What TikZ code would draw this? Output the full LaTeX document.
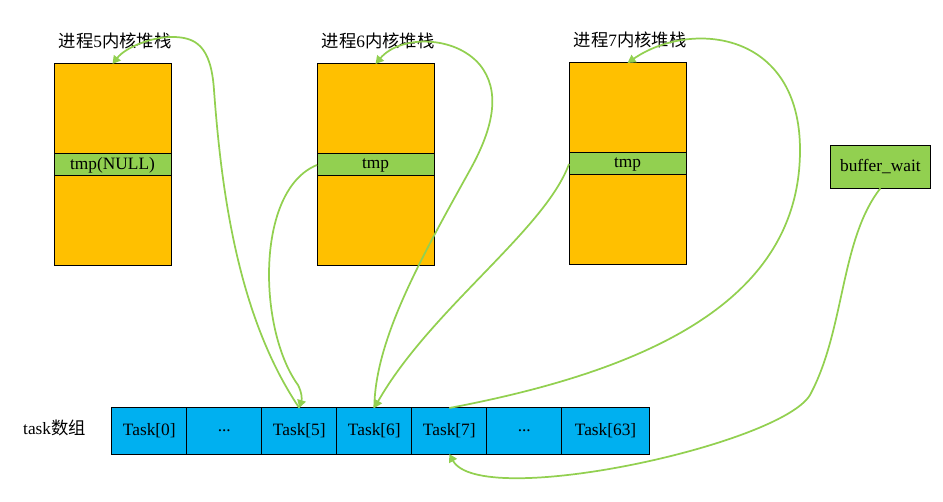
\documentclass[tikz,border=0pt]{standalone}
\usepackage{fontspec}
\setmainfont{Liberation Serif}
\newfontfamily\cjk{Noto Sans CJK SC}
\usetikzlibrary{positioning,arrows.meta}

\definecolor{stackorange}{RGB}{255,192,0}
\definecolor{tmpgreen}{RGB}{146,208,80}
\definecolor{taskblue}{RGB}{0,176,240}

\tikzset{every picture/.style={line width=0.75pt}}
\tikzset{
	stackbox/.style={draw,fill=stackorange,minimum width=87.75pt,minimum height=151.5pt,inner sep=0pt,outer sep=0pt},
	tmpbox/.style={draw,fill=tmpgreen,minimum width=87.75pt,minimum height=16.5pt,inner sep=0pt,outer sep=0pt},
	taskbox/.style={draw,fill=taskblue,minimum width=56.25pt,minimum height=34.5pt,inner sep=0pt,outer sep=0pt},
	waitbox/.style={draw,fill=tmpgreen,minimum width=75.5pt,minimum height=32.25pt,inner sep=0pt,outer sep=0pt},
	link/.style={draw=tmpgreen,line width=1.3pt,-{Triangle[length=6pt,width=6.5pt]}},
}

\begin{document}
\begin{tikzpicture}[x=0.75pt,y=0.75pt,yscale=-1,xscale=1,font=\fontsize{13pt}{15pt}\selectfont]
		\path[use as bounding box] (0,0) rectangle (943,502);
		
		%kernel stacks
		\node (stack5) [stackbox] at (112.5,165) {};
		\node (tmp5) [tmpbox] at (112.5,165) {tmp(NULL)};
		\node (stack6) [stackbox] at (375.5,165) {};
		\node (tmp6) [tmpbox] at (375.5,165) {tmp};
		\node (stack7) [stackbox] at (627.5,164) {};
		\node (tmp7) [tmpbox] at (627.5,164) {tmp};
		
		\node (label5) [inner sep=0.75pt] at (115,41) {{\cjk 进程}5{\cjk 内核堆栈}};
		\node (label6) [inner sep=0.75pt] at (378,41) {{\cjk 进程}6{\cjk 内核堆栈}};
		\node (label7) [inner sep=0.75pt] at (630,40) {{\cjk 进程}7{\cjk 内核堆栈}};
		
		%wait queue head
		\node (bufwait) [waitbox] at (880.4,166.8) {buffer\_wait};
		
		%task array
		\node (task0) [taskbox] at (149.3,431) {Task[0]};
		\node (dots1) [taskbox,right=0pt of task0] {...};
		\node (task5) [taskbox,right=0pt of dots1] {Task[5]};
		\node (task6) [taskbox,right=0pt of task5] {Task[6]};
		\node (task7) [taskbox,right=0pt of task6] {Task[7]};
		\node (dots2) [taskbox,right=0pt of task7] {...};
		\node (task63) [taskbox,minimum width=65.6pt,right=0pt of dots2] {Task[63]};
		\node (tasklabel) [inner sep=0.75pt] at (54.5,428) {task{\cjk 数组}};
		
		%links
		\draw [link] (task5.north) .. controls (240,320) and (222,200) .. (214,90) .. controls (211,45) and (195,37) .. (172,37) .. controls (150,37) and (125,48) .. (stack5.north);
		\draw [link] (tmp6.west) .. controls (255,190) and (258,330) .. (298,385) .. controls (302,393) and (302,399) .. (task5.north);
		\draw [link] (task6.north) .. controls (375,340) and (420,260) .. (470,170) .. controls (495,125) and (500,90) .. (480,65) .. controls (455,35) and (400,35) .. (stack6.north);
		\draw [link] (tmp7.west) .. controls (545,230) and (430,310) .. (task6.north);
		\draw [link] (task7.north) .. controls (650,370) and (800,300) .. (800,150) .. controls (800,30) and (690,20) .. (stack7.north);
		\draw [link] (bufwait.south) .. controls (840,240) and (845,330) .. (810,395) .. controls (780,445) and (480,510) .. (task7.south);
		
\end{tikzpicture}
\end{document}
